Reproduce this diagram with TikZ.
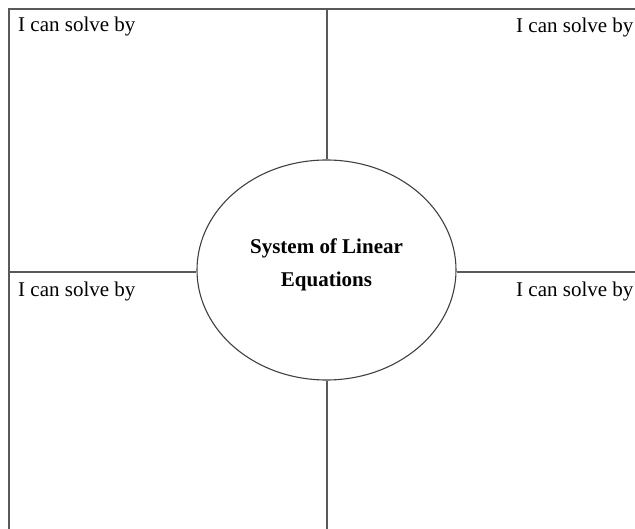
\documentclass[tikz,border=0pt]{standalone}
\usepackage{fontspec}
\setmainfont{Liberation Serif}
\usetikzlibrary{shapes.geometric}
\begin{document}
\begin{tikzpicture}[x=1pt,y=-1pt,
  frame/.style={draw=black!65, line width=2pt},
  oval/.style={ellipse, draw=black!75, line width=1.1pt, minimum width=259pt, minimum height=220pt, inner sep=0pt},
  ctext/.style={inner sep=0pt, align=center, font=\fontsize{21}{33.5}\selectfont\bfseries},
  lbl/.style={anchor=base west, inner sep=0pt, font=\fontsize{21}{25}\selectfont}]
\useasboundingbox (0,0) rectangle (635,529);
\coordinate (tl) at (9,9);
\coordinate (tr) at (636,9);
\coordinate (bl) at (9,530);
\coordinate (top) at (326.5,9);
\coordinate (bot) at (326.5,530);
\coordinate (lft) at (9,272);
\coordinate (rgt) at (636,272);
\node[oval] (c) at (326.5,270) {};
\node[ctext] (ct) at (326.5,265) {System of Linear\\Equations};
\draw[frame] (bl) -- (tl) -- (tr);
\draw[frame] (c.north) -- (top);
\draw[frame] (c.south) -- (bot);
\draw[frame] (c.west |- lft) -- (lft);
\draw[frame] (c.east |- rgt) -- (rgt);
\node[lbl] (t1) at (18,32) {I can solve by};
\node[lbl] (t2) at (516,33) {I can solve by};
\node[lbl] (t3) at (18,297) {I can solve by};
\node[lbl] (t4) at (516,297) {I can solve by};
\end{tikzpicture}
\end{document}
